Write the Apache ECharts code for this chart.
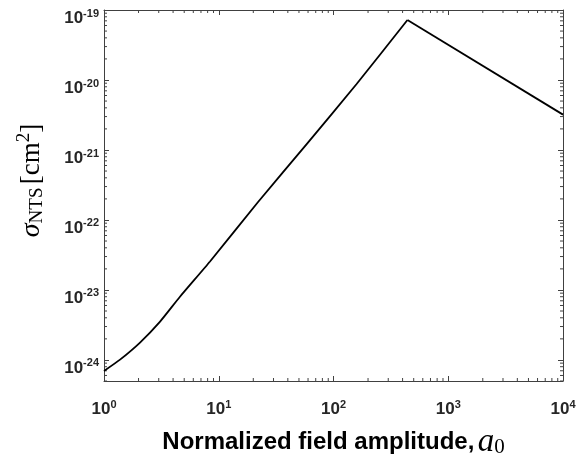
<!DOCTYPE html>
<html>
<head>
<meta charset="utf-8">
<script src="https://cdn.jsdelivr.net/npm/echarts@6/dist/echarts.min.js"></script>
<style>
  html, body { margin: 0; padding: 0; background: #fff; }
  #chart { width: 588px; height: 464px; }
</style>
</head>
<body>
<div id="chart"></div>
<script>
// values
const fieldAmp = [1, 1.38, 2.06, 3.08, 4.59, 8.39, 22.1, 58.4, 159, 441, 10000];
const crossSection = [6.97e-25, 1.01e-24, 1.77e-24, 3.53e-24, 8.0e-24, 2.55e-23,
  1.82e-22, 1.21e-21, 8.77e-21, 7.2e-20, 3.2e-21];
const peakIndex = 9; // the curve turns over here

const xRange = [1, 1e4];
const yRange = [5e-25, 1e-19];

// echarts log scale rounds values below ~1e-20 to zero,
// so the y axis works in units of 1e-25 cm^2 and the labels add the exponent back
const yExp = 25;
const yUnit = Math.pow(10, yExp);
const toAxis = v => v * yUnit;

// minor tick positions (2..9 x 10^n), like matlab log axes
const xMinor = [];
for (let n = 0; n < 4; n++) for (let k = 2; k <= 9; k++) xMinor.push(k * Math.pow(10, n));
const yMinor = [];
for (let n = -25; n < -19; n++) for (let k = 2; k <= 9; k++) {
  const v = k * Math.pow(10, n);
  if (v > yRange[0] && v < yRange[1]) yMinor.push(v);
}

const points = fieldAmp.map((a, i) => [a, toAxis(crossSection[i])]);

const axisColor = "#404040";
const labelRich = {
  b: { fontSize: 17, fontWeight: "bold", fontFamily: "Liberation Sans", color: "#262626" },
  s: { fontSize: 11, fontWeight: "bold", fontFamily: "Liberation Sans", color: "#262626", padding: [0, 0, 9, 0] }
};
function powLabel(v, shift) {
  const lg = Math.log10(v);
  const e = Math.round(lg);
  if (Math.abs(lg - e) > 1e-6) return "";
  return "{b|10}{s|" + (e - shift) + "}";
}

const chart = echarts.init(document.getElementById("chart"));

const option = {
  animation: false,
  grid: { left: 104, right: 25, top: 10, bottom: 71, containLabel: false },
  xAxis: [
    {
      type: "log",
      logBase: 10,
      min: xRange[0],
      max: xRange[1],
      splitNumber: 4,
      axisLine: { show: true, lineStyle: { color: axisColor, width: 1 } },
      axisTick: { show: true, inside: true, length: 5, lineStyle: { color: axisColor } },
      splitLine: { show: false },
      axisLabel: { formatter: v => powLabel(v, 0), rich: labelRich, margin: 18 },
      name: "{t|Normalized field amplitude,} {m|a}{sub|0}",
      nameLocation: "middle",
      nameGap: 45,
      nameTextStyle: {
        rich: {
          t: { fontSize: 24, fontWeight: "bold", fontFamily: "Liberation Sans", color: "#000" },
          m: { fontSize: 33, fontStyle: "italic", fontFamily: "Liberation Serif", color: "#000" },
          sub: { fontSize: 21, fontFamily: "Liberation Serif", color: "#000", padding: [10, 0, 0, 0] }
        }
      }
    },
    {
      type: "log",
      logBase: 10,
      position: "top",
      min: xRange[0],
      max: xRange[1],
      splitNumber: 4,
      axisLine: { show: true, lineStyle: { color: axisColor, width: 1 } },
      axisTick: { show: true, inside: true, length: 5, lineStyle: { color: axisColor } },
      axisLabel: { show: false },
      splitLine: { show: false }
    }
  ],
  yAxis: [
    {
      type: "log",
      logBase: 10,
      min: toAxis(yRange[0]),
      max: toAxis(yRange[1]),
      axisLine: { show: true, lineStyle: { color: axisColor, width: 1 } },
      axisTick: { show: true, inside: true, length: 5, lineStyle: { color: axisColor } },
      splitLine: { show: false },
      axisLabel: { formatter: v => powLabel(v, yExp), rich: labelRich, margin: 5, padding: [16, 0, 0, 0] },
      name: "{i|σ}{sub|NTS} {r|[cm}{sup|2}{r|]}",
      nameLocation: "middle",
      nameGap: 56,
      nameTextStyle: {
        padding: [0, 0, 0, 30],
        rich: {
          i: { fontSize: 28, fontStyle: "italic", fontFamily: "Liberation Serif", color: "#000" },
          sub: { fontSize: 19, fontFamily: "Liberation Serif", color: "#000", padding: [12, 0, 0, 0] },
          r: { fontSize: 27, fontFamily: "Liberation Serif", color: "#000" },
          sup: { fontSize: 19, fontFamily: "Liberation Serif", color: "#000", padding: [0, 0, 14, 0] }
        }
      }
    },
    {
      type: "log",
      logBase: 10,
      position: "right",
      min: toAxis(yRange[0]),
      max: toAxis(yRange[1]),
      axisLine: { show: true, lineStyle: { color: axisColor, width: 1 } },
      axisTick: { show: true, inside: true, length: 5, lineStyle: { color: axisColor } },
      axisLabel: { show: false },
      splitLine: { show: false }
    }
  ],
  series: [
    {
      // rising branch, slightly curved at small a0
      type: "line",
      data: points.slice(0, peakIndex + 1),
      showSymbol: false,
      smooth: 0.2,
      lineStyle: { color: "#000", width: 1.8 },
      z: 5
    },
    {
      // falling branch after the peak
      type: "line",
      data: points.slice(peakIndex),
      showSymbol: false,
      smooth: false,
      lineStyle: { color: "#000", width: 1.8 },
      z: 5
    },
    {
      // minor ticks on bottom and top
      type: "custom",
      silent: true,
      data: xMinor.map(v => [v, toAxis(yRange[0])]),
      renderItem: function (params, api) {
        const b = api.coord([api.value(0), toAxis(yRange[0])]);
        const t = api.coord([api.value(0), toAxis(yRange[1])]);
        const st = { stroke: axisColor, lineWidth: 1 };
        return {
          type: "group",
          children: [
            { type: "line", shape: { x1: b[0], y1: b[1], x2: b[0], y2: b[1] - 3 }, style: st },
            { type: "line", shape: { x1: t[0], y1: t[1], x2: t[0], y2: t[1] + 3 }, style: st }
          ]
        };
      }
    },
    {
      // minor ticks on left and right
      type: "custom",
      silent: true,
      data: yMinor.map(v => [xRange[0], toAxis(v)]),
      renderItem: function (params, api) {
        const l = api.coord([xRange[0], api.value(1)]);
        const r = api.coord([xRange[1], api.value(1)]);
        const st = { stroke: axisColor, lineWidth: 1 };
        return {
          type: "group",
          children: [
            { type: "line", shape: { x1: l[0], y1: l[1], x2: l[0] + 3, y2: l[1] }, style: st },
            { type: "line", shape: { x1: r[0], y1: r[1], x2: r[0] - 3, y2: r[1] }, style: st }
          ]
        };
      }
    }
  ]
};

chart.setOption(option);
</script>
</body>
</html>
